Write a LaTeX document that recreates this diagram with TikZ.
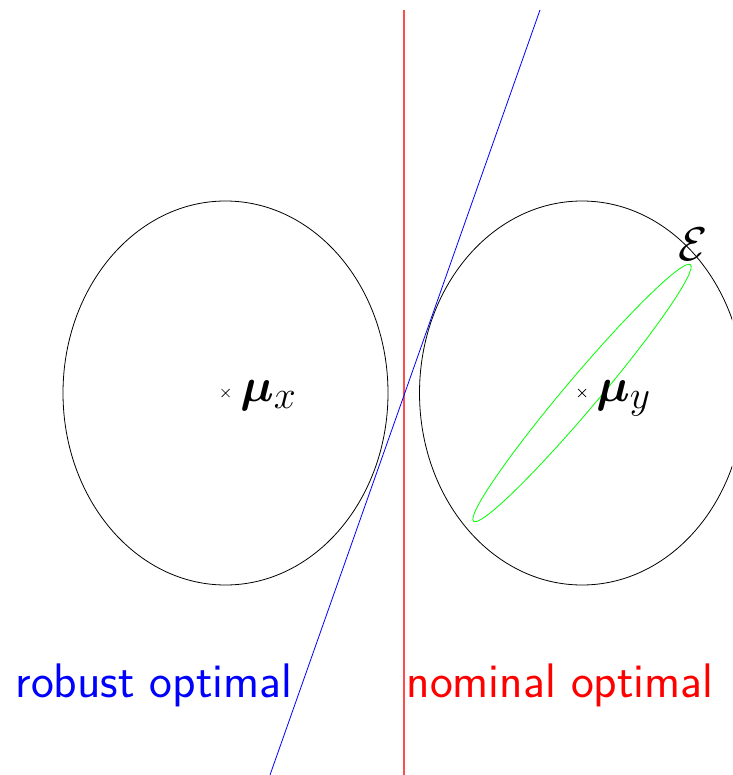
\documentclass[tikz,border=0pt]{standalone}
\usepackage{amsmath,amssymb,bm}
\usetikzlibrary{calc}
\begin{document}
\begin{tikzpicture}[x=1pt,y=-1pt,
  thinline/.style={line width=0.8pt},
  bigtext/.style={font=\fontsize{48.5}{58}\selectfont\sffamily, inner sep=0pt},
  bigmath/.style={font=\Huge, scale=1.9, inner sep=0pt},
  crossmark/.style={line width=0.7pt}]
\useasboundingbox (0,0) rectangle (732,775);
\clip (0,0) rectangle (732,775);
% ellipses
\coordinate (cx) at (225.5,393);
\coordinate (cy) at (582,393);
\draw[thinline] (cx) ellipse [x radius=162.5, y radius=192];
\draw[thinline] (cy) ellipse [x radius=162.5, y radius=192];
% green uncertainty ellipse
\draw[thinline, color=green] (cy) ellipse [x radius=168, y radius=16.5, rotate=49.8];
% lines
\coordinate (rtop) at (404,10);
\coordinate (rbot) at (404,775);
\coordinate (btop) at (540,10);
\coordinate (bbot) at (270,775);
\draw[line width=1.2pt, color=red!70] (rtop) -- (rbot);
\draw[thinline, color=blue] (btop) -- (bbot);
% crosses
\draw[crossmark] ($(cx)+(-4,-4)$) -- ($(cx)+(4,4)$) ($(cx)+(-4,4)$) -- ($(cx)+(4,-4)$);
\draw[crossmark] ($(cy)+(-4,-4)$) -- ($(cy)+(4,4)$) ($(cy)+(-4,4)$) -- ($(cy)+(4,-4)$);
% labels
\node[bigmath, anchor=base west] (mux) at (240,401) {$\bm{\mu}_x$};
\node[bigmath, anchor=base west] (muy) at (596,401) {$\bm{\mu}_y$};
\node[bigmath] (E) at (693,244) {$\mathcal{E}$};
\node[bigtext, text=blue, anchor=base] (rob) at (154,697) {robust optimal};
\node[bigtext, text=red, anchor=base] (nom) at (560,697) {nominal optimal};
\end{tikzpicture}
\end{document}
